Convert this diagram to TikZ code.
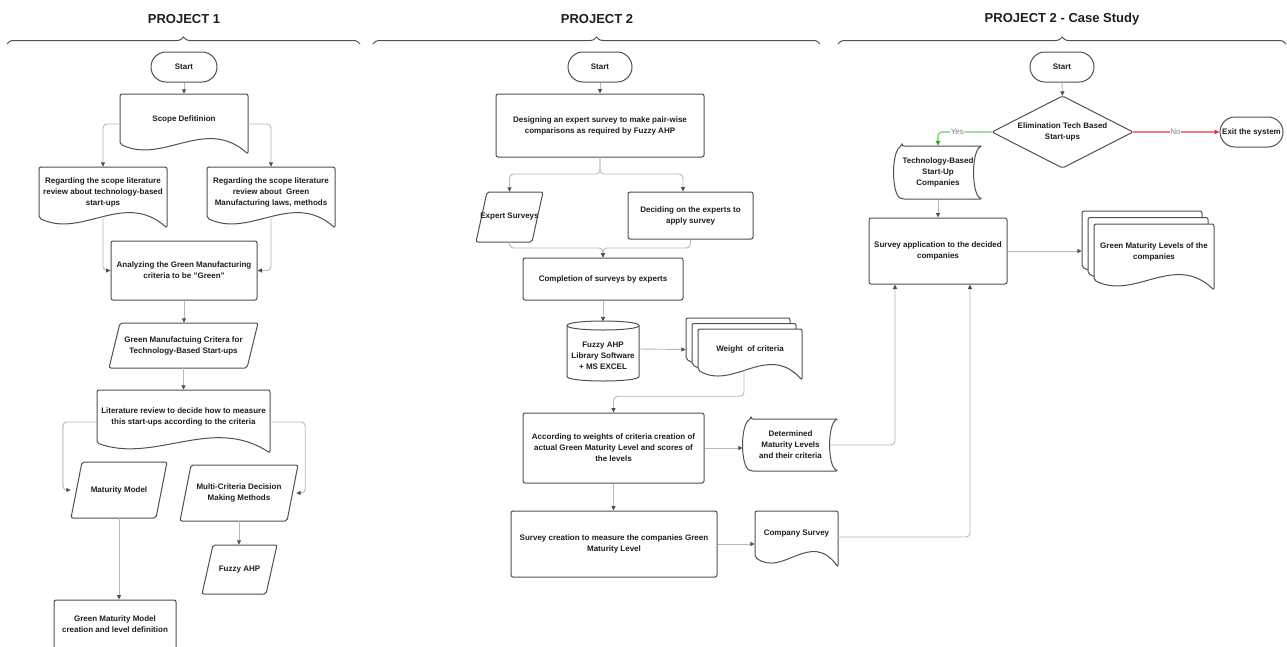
\documentclass[tikz,border=0pt]{standalone}
\usepackage{fontspec}
\setmainfont{Liberation Sans}
\usetikzlibrary{arrows.meta,decorations.pathreplacing,calc}
\definecolor{shapec}{HTML}{505050}
\definecolor{connc}{HTML}{B8B8B8}
\definecolor{tipc}{HTML}{4A5060}
\definecolor{textc}{HTML}{1E1E1E}
\definecolor{yesc}{HTML}{6CCB6C}
\definecolor{yestip}{HTML}{2FA12F}
\definecolor{noc}{HTML}{F07C7C}
\definecolor{notip}{HTML}{E53030}
\definecolor{lblc}{HTML}{808080}

\newcommand\mydoc[4]{%
  \pgfmathsetmacro\wvA{#1+(#3-#1)/3}%
  \pgfmathsetmacro\wvB{#1+2*(#3-#1)/3}%
  \pgfmathsetmacro\wvL{#4-10}%
  \pgfmathsetmacro\wvC{#4+11}%
  \pgfmathsetmacro\wvD{#4-38}%
  \draw[shp] (#3,#4) .. controls (\wvB,\wvD) and (\wvA,\wvC) .. (#1,\wvL) -- (#1,#2) -- (#3,#2) -- cycle;
}
\newcommand\mystore[4]{%
  \pgfmathsetmacro\stA{#1+8}%
  \pgfmathsetmacro\stB{#1-2.67}%
  \pgfmathsetmacro\stC{#3-10.67}%
  \pgfmathsetmacro\stT{#2+0.1*(#4-#2)}%
  \pgfmathsetmacro\stU{#4-0.1*(#4-#2)}%
  \draw[shp] (\stA,#2) -- (#3,#2) .. controls (\stC,\stT) and (\stC,\stU) .. (#3,#4) -- (\stA,#4) .. controls (\stB,\stU) and (\stB,\stT) .. (\stA,#2) -- cycle;
}
\newcommand\mypara[4]{%
  \pgfmathsetmacro\paA{#1+11}%
  \pgfmathsetmacro\paB{#3-11}%
  \draw[shp] (\paA,#2) -- (#3,#2) -- (\paB,#4) -- (#1,#4) -- cycle;
}
\newcommand\mycyl[4]{%
  \pgfmathsetmacro\cyA{#2+4.5}%
  \pgfmathsetmacro\cyB{#4-4.5}%
  \pgfmathsetmacro\cyC{#2-1.5}%
  \pgfmathsetmacro\cyD{#2+10.5}%
  \pgfmathsetmacro\cyE{#4+1.5}%
  \draw[shpnr] (#1,\cyA) .. controls (#1,\cyC) and (#3,\cyC) .. (#3,\cyA) -- (#3,\cyB) .. controls (#3,\cyE) and (#1,\cyE) .. (#1,\cyB) -- cycle;
  \draw[shpnr] (#1,\cyA) .. controls (#1,\cyD) and (#3,\cyD) .. (#3,\cyA);
}
\newcommand\mydiam[4]{%
  \pgfmathsetmacro\diX{(#1+#3)/2}%
  \pgfmathsetmacro\diY{(#2+#4)/2}%
  \draw[shp] (\diX,#2) -- (#3,\diY) -- (\diX,#4) -- (#1,\diY) -- cycle;
}

\tikzset{
  shp/.style={draw=shapec, line width=1pt, fill=white, rounded corners=2pt},
  shpnr/.style={draw=shapec, line width=1pt, fill=white},
  txt/.style={font=\fontsize{8}{11}\selectfont\bfseries, text=textc, align=center, inner sep=0pt},
  box/.style={txt, shp},
  term/.style={txt, draw=shapec, line width=1pt, fill=white, rounded corners=15pt, minimum height=30pt},
  title/.style={font=\fontsize{13}{15}\selectfont\bfseries, text=textc},
  conn/.style={draw=connc, line width=0.9pt, rounded corners=4pt, -{Triangle[length=4.5pt,width=4pt,color=tipc]}},
  yesconn/.style={draw=yesc, line width=1.1pt, rounded corners=4pt, -{Triangle[length=5pt,width=4.5pt,color=yestip]}},
  noconn/.style={draw=noc, line width=1.1pt, -{Triangle[length=5pt,width=4.5pt,color=notip]}},
  lbl/.style={font=\fontsize{8}{10}\selectfont, text=lblc, fill=white, inner sep=0.8pt},
  brc/.style={draw=shapec, line width=1pt, decorate, decoration={brace, amplitude=7pt}}
}

\begin{document}
\begin{tikzpicture}[x=1pt, y=-1pt]
\useasboundingbox (0,0) rectangle (1287,646);
\fill[white] (0,0) rectangle (1287,646);
\clip (0,0) rectangle (1287,646);

% titles and braces
\node[title] (t1) at (184,19) {PROJECT 1};
\node[title] (t2) at (597,19) {PROJECT 2};
\node[title] (t3) at (1062,19) {PROJECT 2 - Case Study};
\draw[brc] (7,44) -- (360,44);
\draw[brc] (373,44) -- (820,44);
\draw[brc] (838,44) -- (1286,44);

% ---------------- PROJECT 1 ----------------
\node[term, minimum width=66pt] (start1) at (184,67) {Start};
\mydoc{120}{94}{248}{154}
\node[txt, minimum width=128pt, minimum height=50pt] (scope) at (184,119) {Scope Defitinion};
\mydoc{39}{167}{167}{228}
\node[txt, minimum width=128pt, minimum height=51pt] (litA) at (103,192.5) {Regarding the scope literature\\review about technology-based\\start-ups};
\mydoc{207}{167}{335}{228}
\node[txt, minimum width=128pt, minimum height=51pt] (litB) at (271,192.5) {Regarding the scope literature\\review about\ \ Green\\Manufacturing laws, methods};
\node[box, minimum width=146pt, minimum height=59pt] (anal) at (184,270.5) {Analyzing the Green Manufacturing\\criteria to be "Green"};
\mypara{109}{323}{258}{368}
\node[txt, minimum width=149pt, minimum height=45pt] (gmc) at (183.5,345.5) {Green Manufactuing Critera for\\Technology-Based Start-ups};
\mydoc{97}{390}{270}{453}
\node[txt, minimum width=173pt, minimum height=53pt] (lit) at (183.5,416.5) {Literature review to decide how to measure\\this start-ups according to the criteria};
\mypara{71}{462}{167}{518}
\node[txt, minimum width=96pt, minimum height=56pt] (mm) at (119,490) {Maturity Model};
\mypara{180}{465}{298}{521}
\node[txt, minimum width=118pt, minimum height=56pt] (mcdm) at (239,493) {Multi-Criteria Decision\\Making Methods};
\mypara{202}{545}{277}{594}
\node[txt, minimum width=75pt, minimum height=49pt] (fahp) at (239.5,569.5) {Fuzzy AHP};
\node[box, minimum width=122pt, minimum height=49pt] (gmm) at (115,624.5) {Green Maturity Model\\creation and level definition};

\draw[conn] (start1.south) -- (scope.north);
\draw[conn] ([yshift=-5pt]scope.west) -| (litA.north);
\draw[conn] ([yshift=-5pt]scope.east) -| (litB.north);
\draw[conn] (litA.south) |- (anal.west);
\draw[conn] (litB.south) |- (anal.east);
\draw[conn] (anal.south) -- (anal.south |- gmc.north);
\draw[conn] (gmc.south) -- (gmc.south |- lit.north);
\draw[conn] ([yshift=-5.5pt]lit.west) -- ++(-34,0) |- (mm.west);
\draw[conn] ([yshift=-5.5pt]lit.east) -- ++(35,0) |- ([xshift=-2pt]mcdm.east);
\draw[conn] (mcdm.south) -- (mcdm.south |- fahp.north);
\draw[conn] (mm.south) -- (mm.south |- gmm.north);

% ---------------- PROJECT 2 ----------------
\node[term, minimum width=64pt] (start2) at (600,67) {Start};
\node[box, minimum width=208pt, minimum height=63pt] (design) at (600,125.5) {Designing an expert survey to make pair-wise\\comparisons as required by Fuzzy AHP};
\mypara{476}{192}{543}{242}
\node[txt, minimum width=67pt, minimum height=50pt] (es) at (509.5,217) {Expert Surveys};
\node[box, minimum width=125pt, minimum height=47pt] (dec) at (690.5,215.5) {Deciding on the experts to\\apply survey};
\node[box, minimum width=160pt, minimum height=42pt] (comp) at (603,279) {Completion of surveys by experts};
\mycyl{567}{321}{639}{381}
\node[txt, minimum width=72pt, minimum height=50pt] (cyl) at (603,356) {Fuzzy AHP\\Library Software\\+ MS EXCEL};
\mydoc{686}{318}{790}{369}
\mydoc{692}{323.5}{796}{374.5}
\mydoc{698}{329}{802}{380}
\node[txt, minimum width=104pt, minimum height=41pt] (wt) at (750,349.5) {Weight\ \ of criteria};
\node[box, minimum width=181pt, minimum height=70pt] (acc) at (613.5,448) {According to weights of criteria creation of\\actual Green Maturity Level and scores of\\the levels};
\mystore{743}{419}{838}{471}
\node[txt, minimum width=95pt, minimum height=52pt] (det) at (790.5,445) {Determined\\Maturity Levels\\and their criteria};
\node[box, minimum width=206pt, minimum height=66pt] (sc) at (614,544) {Survey creation to measure the companies Green\\Maturity Level};
\mydoc{755}{511}{838}{567}
\node[txt, minimum width=83pt, minimum height=46pt] (cs) at (796.5,534) {Company Survey};

\coordinate (spl) at (600,174);
\coordinate (mrg) at (603,248);
\draw[conn] (start2.south) -- (design.north);
\draw[conn] (design.south) -- (spl) -| (es.north);
\draw[conn] (design.south) -- (spl) -| ([xshift=-7.5pt]dec.north);
\draw[conn] (es.south) |- (mrg) -- (comp.north);
\draw[conn] (dec.south) |- (mrg) -- (comp.north);
\draw[conn] (comp.south) -- ++(0,21);
\draw[conn] ([yshift=7pt]cyl.east) -- ([xshift=-12pt]wt.west);
\draw[conn] ([xshift=-6pt]wt.south) -- ++(0,26) -| (acc.north);
\draw[conn] (acc.east) -- (acc.east -| det.west);
\draw[conn] (acc.south) -- (acc.south |- sc.north);
\draw[conn] (sc.east) -- (sc.east -| cs.west);

% ---------------- PROJECT 2 - Case Study ----------------
\node[term, minimum width=64pt] (start3) at (1062,67) {Start};
\mydiam{992}{96}{1133}{168}
\node[txt, minimum width=141pt, minimum height=72pt] (dia) at (1062.5,132) {Elimination Tech Based\\Start-ups};
\node[term, minimum width=63pt] (exit) at (1251.5,132) {Exit the system};
\mystore{894}{146}{982}{199}
\node[txt, minimum width=88pt, minimum height=53pt] (tech) at (938,172.5) {Technology-Based\\Start-Up\\Companies};
\node[box, minimum width=138pt, minimum height=66pt] (sa) at (938,251) {Survey application to the decided\\companies};
\mydoc{1082}{211}{1202}{277}
\mydoc{1088}{217.5}{1208}{283.5}
\mydoc{1094}{224}{1214}{290}
\node[txt, minimum width=120pt, minimum height=56pt] (gml) at (1154,252) {Green Maturity Levels of the\\companies};

\coordinate (gmlin) at ([xshift=-12pt]gml.west);
\draw[conn] (start3.south) -- (dia.north);
\draw[yesconn] (dia.west) -| node[lbl, pos=0.32] {Yes} (tech.north);
\draw[noconn] (dia.east) -- node[lbl, pos=0.49] {No} (exit.west);
\draw[conn] (tech.south) -- (sa.north);
\draw[conn] (sa.east) -- (sa.east -| gmlin);
\draw[conn] ([xshift=-8pt]det.east) -| ([xshift=-43pt]sa.south);
\draw[conn] ([yshift=-3pt]cs.east) -| ([xshift=32pt]sa.south);
\end{tikzpicture}
\end{document}
